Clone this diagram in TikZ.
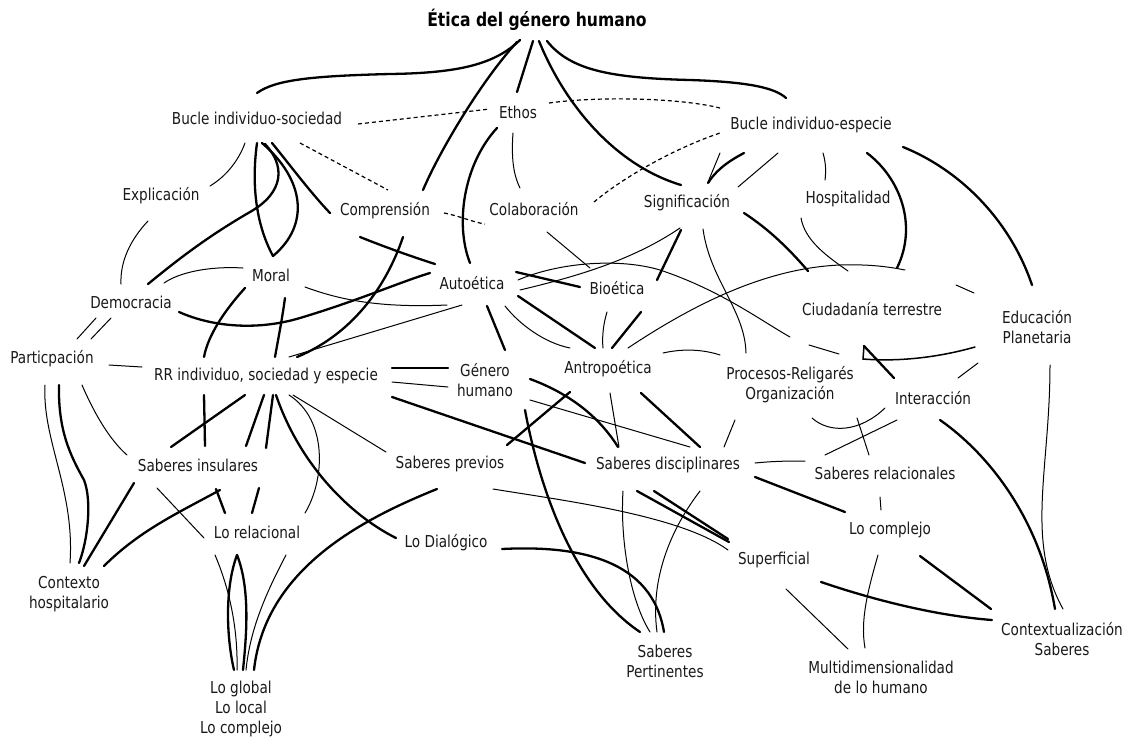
\documentclass[tikz,border=0pt]{standalone}
\usepackage{fontspec}
\setmainfont{DejaVu Sans}[FakeStretch=0.83]
\begin{document}
\begin{tikzpicture}[x=1pt,y=-1pt,
  lbl/.style={inner sep=0pt, align=center, text=black!90, font=\fontsize{16.4}{20}\selectfont},
  ttl/.style={inner sep=0pt, text=black, font=\fontsize{18.8}{22}\selectfont\bfseries},
  thk/.style={line width=2.3pt, line cap=round},
  mid/.style={line width=1.5pt, line cap=round},
  thn/.style={line width=1pt, line cap=round},
  dsh/.style={line width=1.2pt, dash pattern=on 4pt off 3pt}]
\useasboundingbox (0,0) rectangle (1125,740);

% concepts
\node[ttl] (title) at (537,20) {Ética del género humano};
\node[lbl] (bsoc) at (257,118) {Bucle individuo-sociedad};
\node[lbl] (ethos) at (518,112) {Ethos};
\node[lbl] (besp) at (811,125) {Bucle individuo-especie};
\node[lbl] (expl) at (161,196) {Explicación};
\node[lbl] (compr) at (385,211) {Comprensión};
\node[lbl] (colab) at (534,209) {Colaboración};
\node[lbl] (signif) at (687,203) {Significación};
\node[lbl] (hosp) at (848,199) {Hospitalidad};
\node[lbl] (moral) at (271,275) {Moral};
\node[lbl] (auto) at (472,283) {Autoética};
\node[lbl] (bio) at (617,288) {Bioética};
\node[lbl] (demo) at (131,302) {Democracia};
\node[lbl] (ciud) at (872,309) {Ciudadanía terrestre};
\node[lbl] (educ) at (1037,327) {Educación\\Planetaria};
\node[lbl] (partic) at (52,359) {Particpación};
\node[lbl] (rr) at (266,376) {RR individuo, sociedad y especie};
\node[lbl] (genero) at (485,380) {Género\\humano};
\node[lbl] (antro) at (608,369) {Antropoética};
\node[lbl] (proc) at (790,385) {Procesos-Religarés\\Organización};
\node[lbl] (inter) at (933,398) {Interacción};
\node[lbl] (sins) at (198,465) {Saberes insulares};
\node[lbl] (sprev) at (450,464) {Saberes previos};
\node[lbl] (sdis) at (668,465) {Saberes disciplinares};
\node[lbl] (srel) at (885,473) {Saberes relacionales};
\node[lbl] (lorel) at (257,532) {Lo relacional};
\node[lbl] (locomp) at (890,530) {Lo complejo};
\node[lbl] (lodial) at (446,543) {Lo Dialógico};
\node[lbl] (superf) at (774,560) {Superficial};
\node[lbl] (ctxh) at (69,594) {Contexto\\hospitalario};
\node[lbl] (spert) at (665,661) {Saberes\\Pertinentes};
\node[lbl] (ctxs) at (1062,639) {Contextualización\\Saberes};
\node[lbl] (multi) at (881,677) {Multidimensionalidad\\de lo humano};
\node[lbl] (glob) at (241,709) {Lo global\\Lo local\\Lo complejo};

% strong links
\draw[thk] (520,40) .. controls (495,64) and (460,73) .. (390,74) .. controls (310,76) and (275,80) .. (257,93);
\draw[thk] (517,42) .. controls (482,80) and (440,150) .. (423,190);
\draw[thk] (533,41) -- (517,92);
\draw[thk] (539,41) .. controls (565,105) and (615,165) .. (681,185);
\draw[thk] (547,41) .. controls (570,70) and (610,78) .. (690,80) .. controls (750,82) and (775,88) .. (786,98);
\draw[thk] (497,128) .. controls (463,165) and (455,225) .. (470,263);
\draw[thk] (257,143) .. controls (250,195) and (260,232) .. (273,256);
\draw[thk] (262,143) .. controls (305,180) and (310,225) .. (273,256);
\draw[thk] (265,144) .. controls (285,165) and (285,192) .. (250,212) .. controls (205,238) and (175,262) .. (148,284);
\draw[thk] (272,143) .. controls (290,165) and (310,192) .. (330,213);
\draw[thk] (360,237) .. controls (385,247) and (410,256) .. (435,264);
\draw[thk] (403,237) .. controls (385,290) and (350,335) .. (297,357);
\draw[thk] (179,312) .. controls (215,328) and (260,330) .. (300,318) .. controls (360,300) and (400,282) .. (430,273);
\draw[thk] (245,288) .. controls (225,310) and (208,335) .. (204,357);
\draw[thk] (285,298) .. controls (282,320) and (278,340) .. (275,357);
\draw[thk] (487,306) -- (505,350);
\draw[thk] (392,368) -- (448,368);
\draw[thk] (392,397) -- (585,463);
\draw[thk] (59,385) .. controls (58,430) and (70,455) .. (84,480) .. controls (92,500) and (88,540) .. (79,563);
\draw[thk] (245,395) -- (171,447);
\draw[thk] (204,395) -- (205,446);
\draw[thk] (264,395) -- (246,446);
\draw[thk] (273,395) -- (266,448);
\draw[thk] (276,395) .. controls (300,465) and (350,515) .. (396,538);
\draw[thk] (220,490) .. controls (180,512) and (140,530) .. (104,566);
\draw[thk] (216,489) -- (225,513);
\draw[thk] (259,488) -- (252,513);
\draw[thk] (134,483) -- (84,566);
\draw[thk] (237,555) .. controls (224,590) and (227,640) .. (234,670);
\draw[thk] (237,555) .. controls (251,590) and (246,640) .. (243,670);
\draw[thk] (437,489) .. controls (360,520) and (265,570) .. (254,670);
\draw[thk] (502,549) .. controls (580,545) and (652,560) .. (664,632);
\draw[thk] (525,410) .. controls (538,480) and (570,585) .. (640,632);
\draw[thk] (507,445) -- (570,392);
\draw[thk] (530,379) .. controls (560,390) and (595,410) .. (618,447);
\draw[thk] (637,491) -- (729,542);
\draw[thk] (654,491) -- (728,539);
\draw[thk] (755,477) -- (845,512);
\draw[thk] (920,556) -- (991,609);
\draw[thk] (821,582) .. controls (880,602) and (940,616) .. (992,620);
\draw[thk] (940,420) .. controls (990,455) and (1040,520) .. (1055,609);
\draw[thk] (518,296) -- (595,348);
\draw[thk] (516,272) -- (580,287);
\draw[thk] (641,312) -- (612,348);
\draw[thk] (641,393) -- (700,447);
\draw[thk] (681,230) -- (657,280);
\draw[thk] (744,153) .. controls (725,163) and (715,172) .. (708,183);
\draw[thk] (744,213) .. controls (770,230) and (790,250) .. (808,271);
\draw[thk] (867,153) .. controls (900,178) and (918,225) .. (897,268);
\draw[thk] (903,147) .. controls (960,170) and (1010,220) .. (1032,285);
\draw[thk] (894,378) -- (864,346);
\draw[mid] (864,346) -- (863,359) .. controls (900,362) and (940,357) .. (975,347);

% weak links
\draw[thn] (513,133) .. controls (511,160) and (514,176) .. (520,188);
\draw[thn] (245,143) .. controls (238,162) and (225,177) .. (210,186);
\draw[thn] (148,221) .. controls (130,240) and (120,262) .. (121,284);
\draw[thn] (243,268) .. controls (210,266) and (180,272) .. (164,283);
\draw[thn] (77,339) -- (96,318);
\draw[thn] (91,339) -- (111,318);
\draw[thn] (305,287) .. controls (340,300) and (380,308) .. (447,305);
\draw[thn] (462,305) -- (289,357);
\draw[thn] (109,365) -- (142,367);
\draw[thn] (392,382) -- (448,387);
\draw[thn] (45,385) .. controls (42,440) and (75,490) .. (70,563);
\draw[thn] (82,385) .. controls (95,415) and (110,440) .. (127,455);
\draw[thn] (289,395) .. controls (328,420) and (325,480) .. (305,513);
\draw[thn] (293,395) -- (386,452);
\draw[thn] (157,488) -- (204,538);
\draw[thn] (215,555) .. controls (230,590) and (238,630) .. (237,670);
\draw[thn] (286,555) .. controls (265,595) and (250,630) .. (246,670);
\draw[thn] (493,489) .. controls (560,500) and (680,515) .. (728,550);
\draw[thn] (623,491) .. controls (620,540) and (630,600) .. (650,632);
\draw[thn] (700,491) .. controls (670,530) and (650,580) .. (657,632);
\draw[thn] (530,400) -- (690,447);
\draw[thn] (610,393) -- (619,447);
\draw[thn] (880,497) -- (881,510);
\draw[thn] (878,555) .. controls (868,590) and (860,620) .. (865,648);
\draw[thn] (786,589) -- (848,649);
\draw[thn] (1050,365) .. controls (1050,470) and (1025,540) .. (1063,609);
\draw[thn] (735,420) -- (724,447);
\draw[thn] (755,463) .. controls (775,461) and (790,461) .. (805,461);
\draw[thn] (812,418) .. controls (830,434) and (860,432) .. (885,408);
\draw[thn] (825,455) -- (897,420);
\draw[thn] (857,418) -- (869,455);
\draw[thn] (958,378) -- (978,363);
\draw[thn] (956,285) -- (974,293);
\draw[thn] (505,306) .. controls (520,325) and (545,343) .. (570,348);
\draw[thn] (520,290) .. controls (570,278) and (630,262) .. (680,228);
\draw[thn] (547,232) -- (590,268);
\draw[thn] (518,280) .. controls (560,262) and (620,258) .. (660,270) .. controls (720,290) and (760,320) .. (790,337);
\draw[thn] (809,345) -- (839,354);
\draw[thn] (607,312) .. controls (603,325) and (602,338) .. (603,348);
\draw[thn] (663,353) .. controls (685,348) and (705,350) .. (720,355);
\draw[thn] (628,348) .. controls (700,300) and (770,268) .. (840,265) .. controls (870,264) and (890,267) .. (905,270);
\draw[thn] (801,218) .. controls (805,240) and (825,255) .. (848,271);
\draw[thn] (720,153) -- (708,182);
\draw[thn] (778,153) -- (738,187);
\draw[thn] (823,153) .. controls (826,163) and (826,172) .. (825,180);
\draw[thn] (703,229) .. controls (710,280) and (745,310) .. (746,353);

% dashed links
\draw[dsh] (358,124) -- (490,109);
\draw[dsh] (549,103) .. controls (600,96) and (680,98) .. (720,108);
\draw[dsh] (300,143) -- (388,190);
\draw[dsh] (444,213) .. controls (460,216) and (472,222) .. (485,224);
\draw[dsh] (594,202) .. controls (620,180) and (670,150) .. (720,133);
\end{tikzpicture}
\end{document}
